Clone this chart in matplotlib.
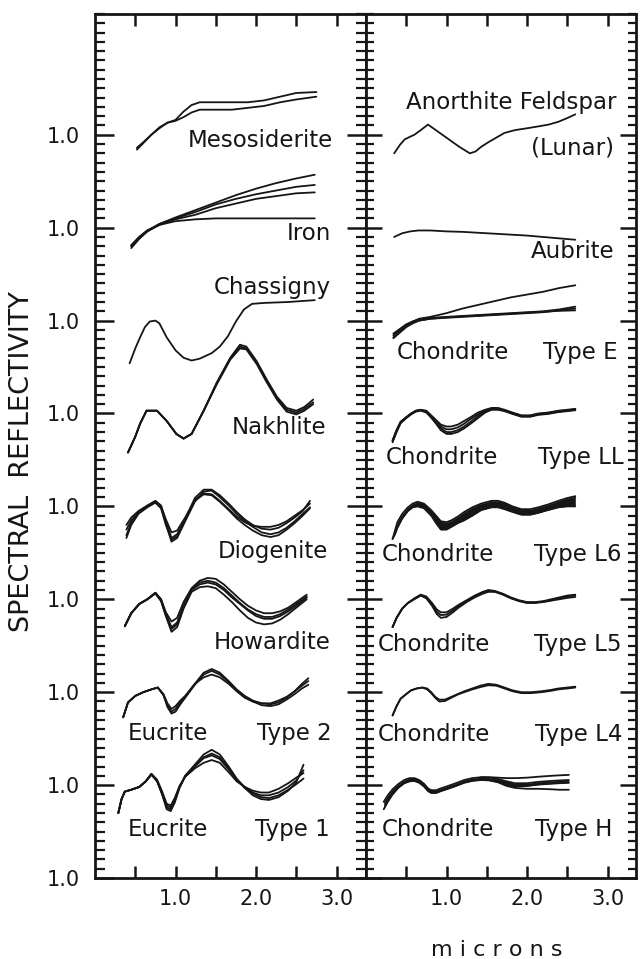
import numpy as np
import matplotlib.pyplot as plt
from matplotlib.ticker import MultipleLocator

# ---------------- left panel: achondrites / irons ----------------
# every curve is relative reflectance, 1.0 at its own offset tick
meso_wl = [0.52, 0.6, 0.7, 0.8, 0.9, 1.0, 1.1, 1.2, 1.3, 1.5, 1.7, 1.9, 2.1, 2.3, 2.5, 2.75]
meso_a = [0.86, 0.92, 1.0, 1.08, 1.13, 1.16, 1.25, 1.32, 1.35, 1.35, 1.35, 1.35, 1.37, 1.41, 1.45, 1.46]
meso_b = [0.84, 0.91, 1.0, 1.07, 1.13, 1.15, 1.19, 1.24, 1.27, 1.27, 1.27, 1.29, 1.31, 1.35, 1.38, 1.41]

iron_wl = [0.45, 0.55, 0.65, 0.8, 1.0, 1.25, 1.5, 1.75, 2.0, 2.25, 2.5, 2.73]
iron_flat = [0.81, 0.90, 0.97, 1.03, 1.07, 1.09, 1.10, 1.10, 1.10, 1.10, 1.10, 1.10]
iron_a = [0.81, 0.90, 0.97, 1.04, 1.11, 1.19, 1.27, 1.35, 1.42, 1.48, 1.53, 1.57]
iron_b = [0.80, 0.89, 0.96, 1.04, 1.10, 1.17, 1.25, 1.31, 1.36, 1.40, 1.44, 1.46]
iron_c = [0.78, 0.88, 0.96, 1.03, 1.09, 1.14, 1.21, 1.26, 1.31, 1.34, 1.37, 1.38]

chas_wl = [0.43, 0.5, 0.56, 0.62, 0.68, 0.75, 0.8, 0.89, 1.0, 1.1, 1.2, 1.3, 1.45, 1.55,
           1.65, 1.75, 1.85, 1.95, 2.1, 2.4, 2.73]
chas = [0.54, 0.70, 0.82, 0.93, 0.99, 1.0, 0.97, 0.82, 0.68, 0.60, 0.57, 0.59, 0.65, 0.72,
        0.83, 0.99, 1.12, 1.18, 1.19, 1.20, 1.22]

nakh_wl = [0.41, 0.5, 0.56, 0.64, 0.77, 0.89, 1.01, 1.1, 1.2, 1.35, 1.51, 1.68, 1.8, 1.88,
           2.01, 2.13, 2.26, 2.38, 2.5, 2.6, 2.71]
nakh_a = [0.58, 0.75, 0.89, 1.03, 1.03, 0.92, 0.78, 0.73, 0.78, 1.03, 1.33, 1.60, 1.74, 1.72,
          1.56, 1.37, 1.18, 1.06, 1.03, 1.07, 1.15]
nakh_b = [0.58, 0.75, 0.89, 1.03, 1.03, 0.92, 0.78, 0.73, 0.78, 1.03, 1.32, 1.59, 1.72, 1.70,
          1.545, 1.355, 1.165, 1.04, 1.01, 1.05, 1.12]
nakh_c = [0.58, 0.75, 0.89, 1.03, 1.03, 0.92, 0.78, 0.73, 0.78, 1.03, 1.31, 1.58, 1.70, 1.69,
          1.53, 1.34, 1.15, 1.02, 0.99, 1.03, 1.10]

diog_wl = [0.39, 0.45, 0.54, 0.65, 0.75, 0.82, 0.88, 0.95, 1.02, 1.12, 1.24, 1.35, 1.45,
           1.55, 1.66, 1.76, 1.86, 1.96, 2.07, 2.18, 2.28, 2.38, 2.48, 2.58, 2.67]
diog_a = [0.75, 0.85, 0.94, 1.0, 1.05, 1.0, 0.86, 0.72, 0.74, 0.88, 1.07, 1.14, 1.13,
          1.06, 0.97, 0.89, 0.83, 0.79, 0.78, 0.78, 0.80, 0.84, 0.90, 0.96, 1.03]
diog_b = [0.69, 0.82, 0.93, 1.0, 1.05, 0.99, 0.82, 0.62, 0.66, 0.84, 1.05, 1.16, 1.17,
          1.10, 1.01, 0.92, 0.84, 0.78, 0.72, 0.70, 0.72, 0.77, 0.84, 0.92, 0.99]
diog_c = [0.80, 0.88, 0.95, 1.01, 1.06, 1.01, 0.84, 0.66, 0.70, 0.86, 1.09, 1.18, 1.18,
          1.12, 1.03, 0.94, 0.86, 0.80, 0.76, 0.75, 0.77, 0.82, 0.88, 0.95, 1.06]
diog_d = [0.66, 0.80, 0.92, 0.99, 1.04, 0.98, 0.80, 0.64, 0.68, 0.86, 1.06, 1.13, 1.12,
          1.05, 0.96, 0.87, 0.80, 0.74, 0.69, 0.67, 0.69, 0.75, 0.82, 0.90, 0.98]

how_wl = [0.37, 0.45, 0.55, 0.65, 0.75, 0.82, 0.88, 0.95, 1.02, 1.1, 1.2, 1.3, 1.4, 1.5,
          1.6, 1.7, 1.8, 1.9, 2.0, 2.1, 2.2, 2.3, 2.4, 2.5, 2.63]
how_a = [0.71, 0.85, 0.95, 1.0, 1.07, 1.0, 0.86, 0.76, 0.80, 0.97, 1.12, 1.20, 1.23, 1.22,
         1.16, 1.08, 1.00, 0.93, 0.88, 0.85, 0.85, 0.87, 0.91, 0.97, 1.05]
how_b = [0.71, 0.85, 0.95, 1.0, 1.07, 1.0, 0.84, 0.70, 0.75, 0.93, 1.10, 1.16, 1.18, 1.16,
         1.10, 1.02, 0.95, 0.88, 0.82, 0.79, 0.79, 0.82, 0.87, 0.93, 1.02]
how_c = [0.71, 0.85, 0.95, 1.0, 1.06, 0.98, 0.82, 0.65, 0.70, 0.90, 1.08, 1.13, 1.14, 1.12,
         1.05, 0.97, 0.88, 0.80, 0.75, 0.73, 0.74, 0.78, 0.84, 0.91, 1.00]
how_d = [0.71, 0.85, 0.95, 1.0, 1.07, 0.99, 0.83, 0.68, 0.73, 0.92, 1.11, 1.18, 1.20, 1.18,
         1.12, 1.04, 0.96, 0.89, 0.84, 0.81, 0.81, 0.84, 0.89, 0.95, 1.03]

euc2_wl = [0.35, 0.41, 0.5, 0.6, 0.7, 0.78, 0.85, 0.9, 0.95, 1.0, 1.06, 1.12, 1.24, 1.35,
           1.45, 1.55, 1.66, 1.76, 1.86, 1.96, 2.07, 2.18, 2.28, 2.38, 2.48, 2.57, 2.65]
euc2_a = [0.73, 0.89, 0.96, 1.0, 1.03, 1.05, 0.98, 0.88, 0.82, 0.85, 0.91, 0.96, 1.09, 1.16,
          1.19, 1.16, 1.09, 1.01, 0.94, 0.90, 0.88, 0.88, 0.91, 0.95, 1.01, 1.07, 1.12]
euc2_b = [0.73, 0.89, 0.96, 1.0, 1.03, 1.05, 0.97, 0.84, 0.77, 0.79, 0.87, 0.94, 1.08, 1.19,
          1.23, 1.19, 1.11, 1.02, 0.95, 0.90, 0.86, 0.85, 0.87, 0.92, 0.98, 1.04, 1.08]
euc2_c = [0.73, 0.89, 0.96, 1.0, 1.03, 1.05, 0.97, 0.86, 0.79, 0.82, 0.89, 0.95, 1.09, 1.21,
          1.25, 1.21, 1.12, 1.03, 0.96, 0.91, 0.88, 0.87, 0.89, 0.94, 1.01, 1.09, 1.15]

euc1_wl = [0.29, 0.33, 0.37, 0.45, 0.55, 0.63, 0.7, 0.77, 0.83, 0.89, 0.94, 0.99, 1.05, 1.12,
           1.24, 1.35, 1.45, 1.55, 1.66, 1.76, 1.86, 1.96, 2.06, 2.16, 2.28, 2.4, 2.5, 2.59]
euc1_a = [0.70, 0.85, 0.93, 0.95, 0.98, 1.04, 1.12, 1.06, 0.94, 0.80, 0.78, 0.86, 0.99, 1.09,
          1.18, 1.24, 1.27, 1.24, 1.14, 1.04, 0.98, 0.94, 0.92, 0.92, 0.96, 1.02, 1.08, 1.13]
euc1_b = [0.70, 0.85, 0.93, 0.95, 0.98, 1.04, 1.12, 1.05, 0.92, 0.76, 0.74, 0.83, 0.98, 1.09,
          1.20, 1.29, 1.32, 1.28, 1.17, 1.06, 0.98, 0.92, 0.89, 0.89, 0.92, 0.98, 1.05, 1.16]
euc1_c = [0.70, 0.85, 0.93, 0.95, 0.98, 1.04, 1.12, 1.05, 0.91, 0.74, 0.72, 0.81, 0.97, 1.10,
          1.22, 1.33, 1.38, 1.33, 1.20, 1.07, 0.97, 0.89, 0.85, 0.84, 0.87, 0.94, 1.03, 1.22]
euc1_d = [0.70, 0.85, 0.93, 0.95, 0.98, 1.04, 1.11, 1.04, 0.91, 0.78, 0.76, 0.84, 0.98, 1.10,
          1.21, 1.30, 1.34, 1.30, 1.18, 1.06, 0.97, 0.91, 0.87, 0.86, 0.89, 0.95, 1.01, 1.07]

# ---------------- right panel: feldspar, aubrite, chondrites ----------------
anor_wl = [0.35, 0.42, 0.48, 0.55, 0.6, 0.68, 0.77, 0.9, 1.03, 1.16, 1.29, 1.36, 1.43, 1.52,
           1.6, 1.72, 1.85, 2.0, 2.14, 2.27, 2.39, 2.5, 2.6]
anor = [0.80, 0.89, 0.95, 0.98, 1.0, 1.05, 1.11, 1.03, 0.95, 0.87, 0.80, 0.82, 0.87, 0.92,
        0.96, 1.02, 1.05, 1.07, 1.09, 1.11, 1.14, 1.18, 1.22]

aub_wl = [0.35, 0.45, 0.55, 0.65, 0.8, 1.0, 1.2, 1.4, 1.6, 1.8, 2.0, 2.2, 2.4, 2.6]
aub = [0.90, 0.94, 0.96, 0.97, 0.97, 0.96, 0.955, 0.945, 0.935, 0.925, 0.915, 0.90, 0.885, 0.87]

ce_wl = [0.34, 0.42, 0.5, 0.58, 0.66, 0.8, 1.0, 1.2, 1.4, 1.6, 1.8, 2.0, 2.2, 2.4, 2.6]
ce_a = [0.86, 0.91, 0.96, 0.99, 1.02, 1.04, 1.08, 1.13, 1.17, 1.21, 1.25, 1.28, 1.31, 1.35, 1.38]
ce_b = [0.84, 0.90, 0.95, 0.99, 1.01, 1.03, 1.04, 1.05, 1.06, 1.07, 1.08, 1.09, 1.10, 1.12, 1.15]
ce_c = [0.82, 0.88, 0.94, 0.98, 1.00, 1.02, 1.03, 1.04, 1.05, 1.06, 1.07, 1.08, 1.09, 1.11, 1.13]
ce_d = [0.81, 0.87, 0.93, 0.97, 1.0, 1.02, 1.035, 1.045, 1.055, 1.065, 1.075, 1.085, 1.095, 1.105, 1.11]

ll_wl = [0.33, 0.38, 0.43, 0.5, 0.56, 0.62, 0.68, 0.75, 0.81, 0.87, 0.93, 1.0, 1.06, 1.14,
         1.22, 1.3, 1.39, 1.48, 1.56, 1.64, 1.72, 1.82, 1.93, 2.04, 2.14, 2.26, 2.39, 2.5, 2.6]
ll_a = [0.71, 0.82, 0.91, 0.96, 1.0, 1.03, 1.04, 1.03, 0.98, 0.93, 0.88, 0.86, 0.86, 0.88,
        0.92, 0.96, 1.01, 1.04, 1.06, 1.06, 1.04, 1.01, 0.98, 0.98, 1.0, 1.01, 1.03, 1.04, 1.05]
ll_b = [0.71, 0.82, 0.91, 0.96, 1.0, 1.03, 1.04, 1.02, 0.97, 0.91, 0.86, 0.83, 0.83, 0.85,
        0.89, 0.94, 0.99, 1.03, 1.05, 1.05, 1.035, 1.005, 0.975, 0.975, 0.995, 1.005, 1.025, 1.035, 1.045]
ll_c = [0.70, 0.81, 0.90, 0.955, 0.995, 1.025, 1.035, 1.015, 0.96, 0.90, 0.84, 0.80, 0.80, 0.82,
        0.86, 0.91, 0.97, 1.02, 1.045, 1.045, 1.03, 1.0, 0.97, 0.97, 0.99, 1.0, 1.02, 1.03, 1.04]
ll_d = [0.69, 0.80, 0.895, 0.95, 0.99, 1.02, 1.03, 1.01, 0.955, 0.89, 0.82, 0.78, 0.78, 0.80,
        0.84, 0.89, 0.95, 1.01, 1.04, 1.04, 1.025, 0.995, 0.965, 0.965, 0.985, 0.995, 1.015, 1.025, 1.035]

l6_wl = [0.33, 0.36, 0.39, 0.45, 0.52, 0.58, 0.64, 0.72, 0.81, 0.87, 0.93, 1.0, 1.06, 1.14,
         1.22, 1.32, 1.43, 1.56, 1.64, 1.72, 1.82, 1.93, 2.04, 2.14, 2.26, 2.39, 2.5, 2.6]
l6_top = [0.65, 0.74, 0.83, 0.92, 0.99, 1.03, 1.05, 1.03, 0.96, 0.90, 0.84, 0.83, 0.85, 0.89,
          0.94, 0.99, 1.03, 1.06, 1.06, 1.04, 1.0, 0.97, 0.97, 0.99, 1.02, 1.06, 1.09, 1.11]
l6_bot = [0.65, 0.70, 0.77, 0.87, 0.95, 0.99, 1.0, 0.98, 0.90, 0.82, 0.75, 0.75, 0.78, 0.82,
          0.85, 0.90, 0.96, 0.99, 0.99, 0.97, 0.94, 0.91, 0.91, 0.93, 0.96, 0.99, 1.0, 1.0]

l5_wl = [0.33, 0.38, 0.45, 0.52, 0.6, 0.68, 0.75, 0.82, 0.88, 0.93, 1.0, 1.08, 1.15, 1.25,
         1.35, 1.45, 1.52, 1.6, 1.7, 1.8, 1.9, 2.0, 2.1, 2.2, 2.3, 2.4, 2.5, 2.6]
l5_a = [0.70, 0.80, 0.90, 0.96, 1.01, 1.05, 1.03, 0.96, 0.89, 0.86, 0.86, 0.90, 0.94, 0.99,
        1.04, 1.08, 1.10, 1.09, 1.06, 1.02, 0.99, 0.97, 0.97, 0.98, 1.0, 1.02, 1.04, 1.05]
l5_b = [0.70, 0.80, 0.90, 0.96, 1.0, 1.04, 1.01, 0.93, 0.84, 0.80, 0.81, 0.86, 0.91, 0.97,
        1.02, 1.06, 1.08, 1.08, 1.05, 1.01, 0.98, 0.96, 0.96, 0.97, 0.985, 1.0, 1.015, 1.025]
l5_c = [0.70, 0.80, 0.90, 0.96, 1.005, 1.045, 1.02, 0.945, 0.865, 0.83, 0.835, 0.88, 0.925, 0.98,
        1.03, 1.07, 1.09, 1.085, 1.055, 1.015, 0.985, 0.965, 0.965, 0.975, 0.99, 1.01, 1.03, 1.04]

l4_wl = [0.33, 0.38, 0.43, 0.5, 0.56, 0.63, 0.7, 0.76, 0.81, 0.86, 0.91, 0.98, 1.06, 1.14,
         1.22, 1.32, 1.42, 1.52, 1.62, 1.72, 1.82, 1.93, 2.05, 2.18, 2.3, 2.39, 2.5, 2.6]
l4_a = [0.75, 0.85, 0.93, 0.98, 1.02, 1.04, 1.05, 1.04, 1.0, 0.95, 0.92, 0.92, 0.95, 0.98,
        1.01, 1.04, 1.07, 1.09, 1.08, 1.05, 1.02, 1.0, 1.0, 1.01, 1.025, 1.04, 1.05, 1.06]
l4_b = [0.75, 0.85, 0.93, 0.98, 1.02, 1.04, 1.05, 1.03, 0.99, 0.94, 0.90, 0.905, 0.94, 0.975,
        1.0, 1.03, 1.055, 1.075, 1.07, 1.04, 1.01, 0.99, 0.99, 1.0, 1.015, 1.03, 1.04, 1.05]

h_wl = [0.22, 0.27, 0.33, 0.4, 0.475, 0.54, 0.6, 0.66, 0.72, 0.77, 0.81, 0.87, 0.93, 1.0,
        1.1, 1.22, 1.32, 1.43, 1.54, 1.64, 1.75, 1.85, 2.0, 2.14, 2.3, 2.4, 2.52]
h_hi = [0.82, 0.89, 0.955, 1.01, 1.055, 1.075, 1.075, 1.055, 1.015, 0.965, 0.945, 0.945, 0.965,
        0.985, 1.015, 1.055, 1.075, 1.085, 1.08, 1.065, 1.04, 1.02, 1.02, 1.035, 1.045, 1.05, 1.055]
h_lo = [0.74, 0.82, 0.90, 0.97, 1.02, 1.04, 1.045, 1.025, 0.985, 0.935, 0.915, 0.915, 0.935,
        0.955, 0.985, 1.025, 1.045, 1.055, 1.05, 1.035, 1.005, 0.985, 0.99, 1.005, 1.015, 1.02, 1.025]
h_top_wl = [1.43, 1.54, 1.64, 1.75, 1.85, 2.0, 2.14, 2.3, 2.4, 2.52]
h_top = [1.085, 1.085, 1.08, 1.075, 1.075, 1.08, 1.09, 1.10, 1.105, 1.11]
h_bot_wl = [1.54, 1.64, 1.75, 1.85, 2.0, 2.14, 2.3, 2.4, 2.52]
h_bot = [1.05, 1.03, 0.99, 0.97, 0.96, 0.96, 0.955, 0.95, 0.95]

# offset tick (1.0 line) for each group, counted from the bottom
left_groups = [
    (8, meso_wl, [meso_a, meso_b]),
    (7, iron_wl, [iron_flat, iron_a, iron_b, iron_c]),
    (6, chas_wl, [chas]),
    (5, nakh_wl, [nakh_a, nakh_b, nakh_c]),
    (4, diog_wl, [diog_a, diog_b, diog_c, diog_d]),
    (3, how_wl, [how_a, how_b, how_c, how_d]),
    (2, euc2_wl, [euc2_a, euc2_b, euc2_c]),
    (1, euc1_wl, [euc1_a, euc1_b, euc1_c, euc1_d]),
]
right_groups = [
    (8, anor_wl, [anor]),
    (7, aub_wl, [aub]),
    (6, ce_wl, [ce_a, ce_b, ce_c, ce_d]),
    (5, ll_wl, [ll_a, ll_b, ll_c, ll_d]),
    (4, l6_wl, [l6_top, l6_bot]),
    (3, l5_wl, [l5_a, l5_b, l5_c]),
    (2, l4_wl, [l4_a, l4_b]),
    (1, h_wl, [h_hi, h_lo]),
    (1, h_top_wl, [h_top]),
    (1, h_bot_wl, [h_bot]),
]
bands = [(4, l6_wl, l6_top, l6_bot), (1, h_wl, h_hi, h_lo)]

left_labels = [
    ("Mesosiderite", 2.96, 7.94, "right"),
    ("Iron", 2.93, 6.94, "right"),
    ("Chassigny", 2.93, 6.36, "right"),
    ("Nakhlite", 2.87, 4.85, "right"),
    ("Diogenite", 2.89, 3.51, "right"),
    ("Howardite", 2.93, 2.53, "right"),
    ("Eucrite", 0.41, 1.56, "left"), ("Type 2", 2.94, 1.56, "right"),
    ("Eucrite", 0.41, 0.52, "left"), ("Type 1", 2.92, 0.52, "right"),
]
right_labels = [
    ("Anorthite Feldspar", 3.11, 8.35, "right"),
    ("(Lunar)", 3.08, 7.86, "right"),
    ("Aubrite", 3.08, 6.74, "right"),
    ("Chondrite", 0.38, 5.66, "left"), ("Type E", 3.12, 5.66, "right"),
    ("Chondrite", 0.25, 4.53, "left"), ("Type LL", 3.20, 4.53, "right"),
    ("Chondrite", 0.19, 3.48, "left"), ("Type L6", 3.18, 3.48, "right"),
    ("Chondrite", 0.14, 2.51, "left"), ("Type L5", 3.18, 2.51, "right"),
    ("Chondrite", 0.14, 1.54, "left"), ("Type L4", 3.18, 1.54, "right"),
    ("Chondrite", 0.20, 0.52, "left"), ("Type H", 3.06, 0.52, "right"),
]

ink = "#161616"
plt.rcParams['font.family'] = ['DejaVu Sans']

fig = plt.figure(figsize=(6.41, 9.59), dpi=100)
axl = fig.add_axes([95 / 641, 81 / 959, 271 / 641, 864 / 959])
axr = fig.add_axes([366 / 641, 81 / 959, 270 / 641, 864 / 959])

for ax, groups in ((axl, left_groups), (axr, right_groups)):
    for k, wl, curves in groups:
        for c in curves:
            ax.plot(wl, np.array(c) + (k - 1), color=ink, lw=1.3, solid_capstyle='round')

for k, wl, top, bot in bands:
    axr.fill_between(wl, np.array(bot) + (k - 1), np.array(top) + (k - 1), color=ink, lw=0)

for ax, labels in ((axl, left_labels), (axr, right_labels)):
    for txt, x, y, ha in labels:
        ax.text(x, y, txt, ha=ha, va='center', fontsize=16.5, color=ink)

for ax, xmax in ((axl, 3.366), (axr, 3.354)):
    ax.set_xlim(0, xmax)
    ax.set_ylim(0, 9.3)
    ax.set_xticks([0.5, 1.0, 1.5, 2.0, 2.5, 3.0])
    ax.set_xticklabels(['', '1.0', '', '2.0', '', '3.0'])
    ax.set_yticks(range(9))
    ax.yaxis.set_minor_locator(MultipleLocator(0.1))
    ax.tick_params(axis='x', which='major', direction='in', top=True, bottom=True,
                   length=8.5, width=1.8, labelsize=15, pad=8, colors=ink)
    for s in ax.spines.values():
        s.set_linewidth(2.0)
        s.set_color(ink)

axl.set_yticklabels(['1.0'] * 9)
axl.tick_params(axis='y', which='major', direction='in', left=True, right=True,
                length=13.5, width=1.8, labelsize=15, pad=11, colors=ink)
axl.tick_params(axis='y', which='minor', direction='in', left=True, right=True,
                length=7.0, width=1.6, colors=ink)
axr.tick_params(axis='y', which='major', direction='in', left=True, right=True,
                length=11.5, width=1.8, labelleft=False, colors=ink)
axr.tick_params(axis='y', which='minor', direction='in', left=True, right=True,
                length=6.0, width=1.6, colors=ink)

fig.text(22 / 641, 1 - 461 / 959, "SPECTRAL  REFLECTIVITY", rotation=90,
         ha='center', va='center', fontsize=19.5, color=ink)
fig.text(497 / 641, 1 - 950 / 959, "m i c r o n s", ha='center', va='center',
         fontsize=16, color=ink)

fig.savefig("out.png", dpi=100, facecolor='white')
